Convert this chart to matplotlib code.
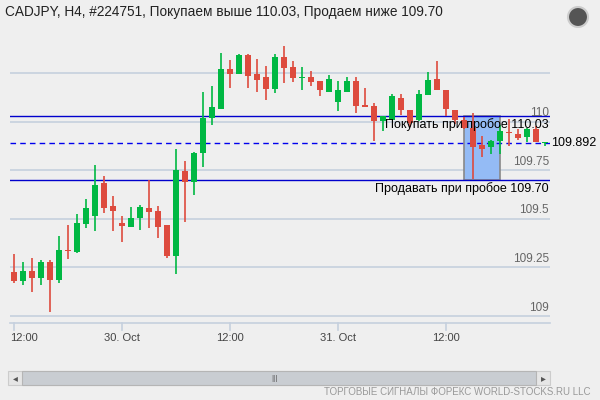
import matplotlib
matplotlib.use("Agg")
import matplotlib.pyplot as plt
from matplotlib.patches import Rectangle, Ellipse

plt.rcParams['font.family'] = ['Liberation Sans', 'DejaVu Sans']

# H4 candles
opens = [109.228, 109.178, 109.233, 109.194, 109.280, 109.183, 109.342, 109.328, 109.473, 109.515,
         109.684, 109.565, 109.477, 109.458, 109.504, 109.554, 109.539, 109.466, 109.308, 109.746,
         109.691, 109.841, 110.017, 110.064, 110.269, 110.245, 110.342, 110.244, 110.228, 110.168,
         110.332, 110.280, 110.226, 110.228, 110.207, 110.155, 110.100, 110.152, 110.207, 110.088,
         110.078, 110.002, 110.010, 110.124, 110.062, 110.010, 110.135, 110.218, 110.164, 110.060,
         110.010, 109.967, 109.881, 109.872, 109.898, 109.948, 109.938, 109.919, 109.960, 109.888]
closes = [109.180, 109.233, 109.194, 109.280, 109.183, 109.342, 109.333, 109.477, 109.554, 109.674,
          109.556, 109.541, 109.463, 109.503, 109.560, 109.536, 109.458, 109.308, 109.751, 109.691,
          109.839, 110.021, 110.073, 110.269, 110.245, 110.342, 110.235, 110.214, 110.168, 110.332,
          110.276, 110.225, 110.231, 110.204, 110.162, 110.218, 110.161, 110.207, 110.080, 110.074,
          110.002, 110.029, 110.130, 110.059, 109.991, 110.140, 110.212, 110.162, 110.064, 110.010,
          109.967, 109.867, 109.857, 109.902, 109.953, 109.940, 109.917, 109.964, 109.893, 109.892]
highs = [109.318, 109.276, 109.301, 109.290, 109.290, 109.411, 109.466, 109.525, 109.603, 109.779,
         109.722, 109.618, 109.515, 109.561, 109.572, 109.701, 109.567, 109.466, 109.857, 109.800,
         109.846, 110.152, 110.183, 110.354, 110.318, 110.349, 110.349, 110.323, 110.287, 110.349,
         110.390, 110.311, 110.282, 110.259, 110.207, 110.238, 110.207, 110.228, 110.228, 110.174,
         110.098, 110.029, 110.140, 110.140, 110.062, 110.161, 110.254, 110.311, 110.164, 110.060,
         110.026, 110.047, 109.928, 109.907, 109.985, 110.016, 109.964, 109.967, 109.979, 109.892]
lows = [109.168, 109.162, 109.121, 109.162, 109.023, 109.168, 109.292, 109.323, 109.453, 109.437,
        109.530, 109.437, 109.380, 109.458, 109.442, 109.453, 109.401, 109.297, 109.214, 109.484,
        109.624, 109.769, 109.981, 110.064, 110.173, 110.245, 110.173, 110.152, 110.111, 110.147,
        110.199, 110.204, 110.161, 110.181, 110.131, 110.150, 110.054, 110.150, 110.043, 110.073,
        109.898, 109.950, 110.010, 110.033, 109.971, 110.005, 110.135, 110.162, 110.031, 109.988,
        109.962, 109.706, 109.820, 109.831, 109.831, 109.877, 109.903, 109.893, 109.893, 109.873]

time_ticks = [0, 12, 24, 36, 48]
time_labels = ["12:00", "30. Oct", "12:00", "31. Oct", "12:00"]
price_ticks = [109, 109.25, 109.5, 109.75, 110, 110.25]
price_labels = ["109", "109.25", "109.5", "109.75", "110", ""]

buy_level = 110.03
sell_level = 109.70
last_price = 109.892
box_start, box_end = 50, 54

GREEN = "#00b843"
RED = "#dd4b3e"
BG = "#efefef"

fig = plt.figure(figsize=(6, 4), dpi=100, facecolor=BG)
ax = fig.add_axes([10 / 600, 77 / 400, 540 / 600, 293 / 400])
ax.set_facecolor(BG)
ax.set_xlim(-4 / 9, 536 / 9)
ax.set_ylim(108.964, 110.4715)
for s in ax.spines.values():
    s.set_visible(False)
ax.set_xticks([])
ax.set_yticks([])

for p in price_ticks:
    ax.axhline(p, color="#c5d0de", lw=1.2, zorder=0)
for p, lab in zip(price_ticks, price_labels):
    ax.text(536 / 9 - 0.1, p + 0.012, lab, ha="right", va="bottom", fontsize=8.5, color="#666666")

ax.add_patch(Rectangle((box_start, sell_level), box_end - box_start, buy_level - sell_level,
                       facecolor="#94bbf5", edgecolor="#888888", lw=1.2, zorder=1))

for i, (o, c, h, l) in enumerate(zip(opens, closes, highs, lows)):
    col = GREEN if c >= o else RED
    ax.vlines(i, l, h, color=col, lw=1.2, zorder=3)
    lo, hi = min(o, c), max(o, c)
    ax.add_patch(Rectangle((i - 0.38, lo), 0.76, max(hi - lo, 0.006), facecolor=col, edgecolor="none", zorder=4))

ax.axhline(buy_level, color="#0000cc", lw=1.0, zorder=2)
ax.axhline(sell_level, color="#0000cc", lw=1.0, zorder=2)
ax.axhline(last_price, color="#0000ee", lw=1, ls=(0, (4, 3)), zorder=2)

ax.text(536 / 9 - 0.1, buy_level - 0.012, "Покупать при пробое 110.03", ha="right", va="top", fontsize=9, zorder=5)
ax.text(536 / 9 - 0.1, sell_level - 0.012, "Продавать при пробое 109.70", ha="right", va="top", fontsize=9, zorder=5)
ax.text(1.002, last_price, "109.892", transform=ax.get_yaxis_transform(), ha="left", va="center", fontsize=9)

# time axis
ax.axhline(108.964, color="#c5d0de", lw=1.2, clip_on=False)
for t, lab in zip(time_ticks, time_labels):
    ax.plot([t, t], [108.964, 108.928], color="#c5d0de", lw=1.2, clip_on=False)
    x = t + 1.1 if t == 0 else t
    ax.text(x, 108.885, lab, ha="center", va="center", fontsize=8, color="#444444", clip_on=False)

fig.text(5 / 600, 1 - 12 / 400, "CADJPY, H4, #224751, Покупаем выше 110.03, Продаем ниже 109.70",
         ha="left", va="center", fontsize=9.8, color="#222222")

# globe icon
fig.patches.append(Ellipse((578 / 600, 1 - 17 / 400), 20 / 600, 20 / 400, transform=fig.transFigure,
                           facecolor="#555555", edgecolor="#cccccc", lw=1.5))

# scrollbar
fig.patches.append(Rectangle((8 / 600, 1 - 385 / 400), 542 / 600, 14 / 400, transform=fig.transFigure,
                             facecolor="#e6e6e6", edgecolor="#cccccc", lw=0.8))
fig.patches.append(Rectangle((22 / 600, 1 - 385 / 400), 514 / 600, 14 / 400, transform=fig.transFigure,
                             facecolor="#c9cdd2", edgecolor="#b5b5b5", lw=0.8))
fig.text(15 / 600, 1 - 378 / 400, "◂", ha="center", va="center", fontsize=7, color="#555555")
fig.text(543 / 600, 1 - 378 / 400, "▸", ha="center", va="center", fontsize=7, color="#555555")
fig.text(274 / 600, 1 - 378 / 400, "|||", ha="center", va="center", fontsize=6, color="#555555")

fig.text(590 / 600, 1 - 392 / 400, "ТОРГОВЫЕ СИГНАЛЫ ФОРЕКС WORLD-STOCKS.RU LLC",
         ha="right", va="center", fontsize=7, color="#999999")

fig.savefig("out.png", dpi=100, facecolor=BG)
